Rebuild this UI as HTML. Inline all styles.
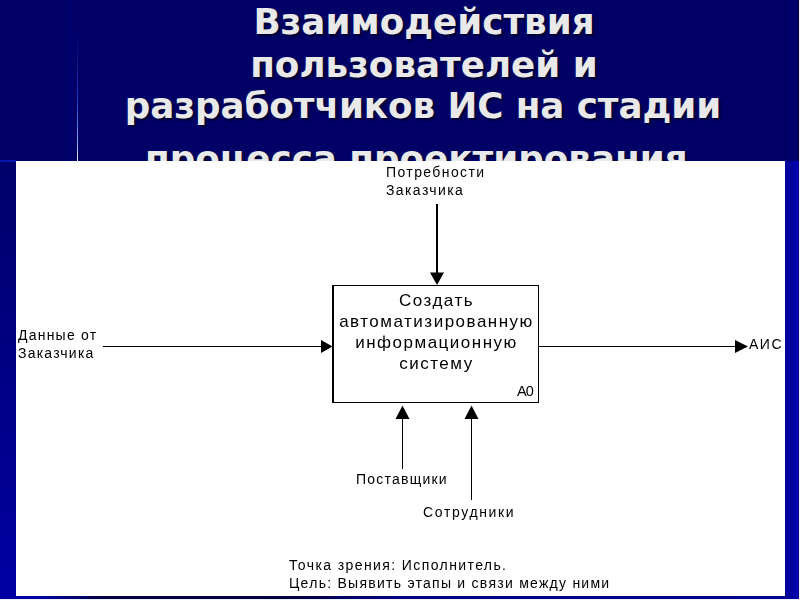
<!DOCTYPE html>
<html lang="ru"><head><meta charset="utf-8">
<style>
html,body{margin:0;padding:0}
body{width:800px;height:600px;overflow:hidden;position:relative;background:#000066;font-family:"Liberation Sans",sans-serif}
#leftcol{position:absolute;left:0;top:0;width:77px;height:161px;background:linear-gradient(to right,#000066 0%,#000066 85%,#00006e 93%,#000062 100%)}
#vline{position:absolute;left:77px;top:0;width:1px;height:161px;background:linear-gradient(to bottom,#000066 0%,#000066 15%,#0a1590 40%,#2040d0 65%,#90b0f8 90%,#e8f0ff 100%)}
#hline{position:absolute;left:0;top:160px;width:16px;height:2px;background:linear-gradient(to right,#0412a8,#0c1cb8)}
#leftstrip{position:absolute;left:0;top:162px;width:16px;height:438px;background:linear-gradient(to bottom,#00006a 0%,#0000a4 100%)}
#rightstrip{position:absolute;left:785px;top:161px;width:14px;height:439px;background:linear-gradient(to right,#00009c 0,#0000a4 9px,#0606b8 13px,#000060 14px)}
#righttop{position:absolute;left:785px;top:0;width:14px;height:161px;background:linear-gradient(to right,#00005c 0,#00005c 1px,#00006c 2px,#00006e 12px,#000044 13px,#000044 14px)}
#redge{position:absolute;left:799px;top:0;width:1px;height:600px;background:#f4f4fc}
#bottom{position:absolute;left:0;top:596px;width:800px;height:3px;background:linear-gradient(to right,#0000a0 0%,#0000a0 5%,#000048 12.500%,#000040 36%,#000080 50%,#000090 98%,#0000b0 100%)}
#bottom2{position:absolute;left:0;top:599px;width:800px;height:1px;background:#f0f0fa}
#title{position:absolute;left:23.5px;top:0;width:800px;height:200px;text-align:center;font-family:"DejaVu Sans","Liberation Sans",sans-serif;font-weight:bold;font-size:35px;line-height:42.4px;color:#e9e9e9;text-shadow:2px 2px 2px #000030;white-space:nowrap;transform:scaleX(1.02);transform-origin:400px 0}
#title div{position:absolute;left:0;width:800px}
#panel{position:absolute;left:16px;top:161px;width:769px;height:435px;background:#fff;overflow:hidden}
#inner{position:absolute;left:0;top:-1px;width:769px;height:436px;will-change:transform}
.t{position:absolute;font-size:14px;line-height:18px;letter-spacing:1.4px;color:#000;white-space:nowrap}
.box{position:absolute;left:316px;top:125px;width:207px;height:118px;border:1px solid #000;border-left-width:2px;box-sizing:border-box}
</style></head><body>
<div id="leftcol"></div><div id="righttop"></div>
<div id="vline"></div>
<div id="title"><div style="top:0.7px">Взаимодействия</div><div style="top:44px">пользователей и</div><div style="top:85.400px;left:-1px;letter-spacing:-0.06px">разработчиков ИС на стадии</div><div style="top:137.500px;left:-7.500px">процесса проектирования</div></div>
<div id="hline"></div><div id="leftstrip"></div><div id="rightstrip"></div><div id="bottom"></div><div id="bottom2"></div><div id="redge"></div>
<div id="panel"><div id="inner">
<svg width="769" height="436" style="position:absolute;left:0;top:0">
<g fill="#000" shape-rendering="crispEdges">
<rect x="420" y="44" width="2" height="70"/>
<rect x="87" y="186" width="220" height="1"/>
<rect x="523" y="186" width="200" height="1"/>
<rect x="386" y="258" width="1" height="51"/>
<rect x="455" y="258" width="1" height="82"/>
</g>
<g fill="#000">
<polygon points="414,112.500 428,112.500 421,125"/>
<polygon points="305,180 305,193 316.500,186.500"/>
<polygon points="719,180 719,193 732,186.500"/>
<polygon points="379.500,259 393.500,259 386.500,245.500"/>
<polygon points="448.500,259 462.500,259 455.500,245.500"/>
</g>
</svg>
<div class="box"></div>
<div class="t" style="left:370px;top:3px">Потребности<br>Заказчика</div>
<div class="t" style="left:2px;top:165.500px;letter-spacing:1.22px">Данные от<br>Заказчика</div>
<div class="t" style="left:733px;top:174.500px;letter-spacing:1.5px">АИС</div>
<div class="t" style="left:340px;top:310px;letter-spacing:1.22px">Поставщики</div>
<div class="t" style="left:407px;top:343px;letter-spacing:1.65px">Сотрудники</div>
<div class="t" style="left:273px;top:396px">Точка зрения: Исполнитель.<br><span style="letter-spacing:1.26px">Цель: Выявить этапы и связи между ними</span></div>
<div class="t" style="left:317px;top:130px;width:207px;text-align:center;font-size:17px;line-height:21px;letter-spacing:1.5px">Создать<br>автоматизированную<br>информационную<br>систему</div>
<div class="t" style="left:501px;top:222px;font-size:14.500px;letter-spacing:-0.8px">А0</div>
</div></div>
</body></html>
